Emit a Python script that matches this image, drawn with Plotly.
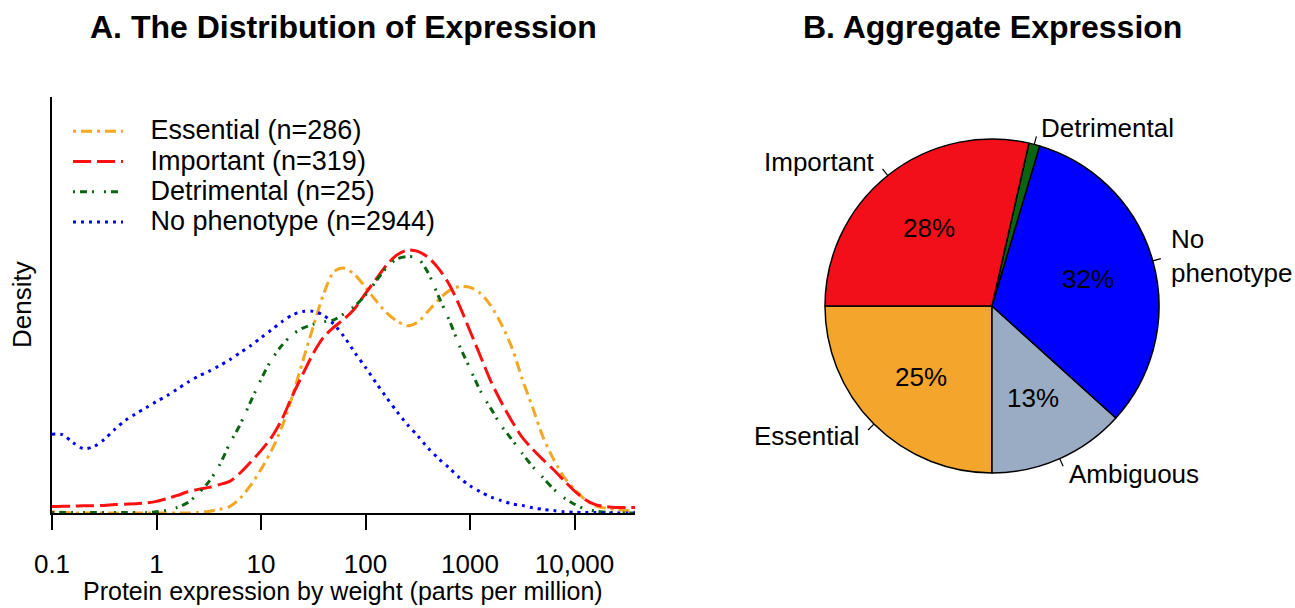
import math
import plotly.graph_objects as go

# ---------------- data ----------------
# log10 of protein expression (ppm) at which densities were read
log10_ppm = [-1.0, -0.9, -0.8, -0.7, -0.6, -0.5, -0.4, -0.3, -0.2, -0.1,
             0.0, 0.1, 0.2, 0.3, 0.4, 0.5, 0.6, 0.7, 0.8, 0.9,
             1.0, 1.1, 1.2, 1.3, 1.4, 1.5, 1.6, 1.7, 1.8, 1.9,
             2.0, 2.1, 2.2, 2.3, 2.4, 2.5, 2.6, 2.7, 2.8, 2.9,
             3.0, 3.1, 3.2, 3.3, 3.4, 3.5, 3.6, 3.7, 3.8, 3.9,
             4.0, 4.1, 4.2, 4.3, 4.4, 4.5, 4.6]

essential = [0.003, 0.002, 0.000, 0.000, 0.000, 0.000, 0.000, 0.000, 0.000, 0.000,
             0.000, 0.000, 0.000, 0.000, 0.001, 0.004, 0.009, 0.016, 0.037, 0.069,
             0.109, 0.156, 0.215, 0.292, 0.380, 0.466, 0.548, 0.604, 0.612, 0.595,
             0.564, 0.531, 0.501, 0.480, 0.468, 0.477, 0.505, 0.533, 0.556, 0.566,
             0.564, 0.549, 0.518, 0.472, 0.414, 0.335, 0.263, 0.189, 0.134, 0.090,
             0.059, 0.034, 0.018, 0.012, 0.009, 0.006, 0.003]

important = [0.016, 0.017, 0.017, 0.018, 0.018, 0.019, 0.021, 0.022, 0.023, 0.025,
             0.029, 0.036, 0.044, 0.053, 0.059, 0.064, 0.071, 0.079, 0.100, 0.127,
             0.156, 0.189, 0.234, 0.293, 0.347, 0.399, 0.440, 0.465, 0.486, 0.512,
             0.549, 0.584, 0.619, 0.645, 0.657, 0.654, 0.639, 0.611, 0.572, 0.518,
             0.455, 0.392, 0.329, 0.277, 0.230, 0.189, 0.159, 0.133, 0.108, 0.081,
             0.055, 0.034, 0.021, 0.016, 0.014, 0.014, 0.014]

detrimental = [0.001, 0.001, 0.001, 0.001, 0.001, 0.001, 0.001, 0.001, 0.001, 0.001,
               0.003, 0.007, 0.014, 0.026, 0.049, 0.078, 0.118, 0.173, 0.221, 0.278,
               0.334, 0.383, 0.419, 0.446, 0.462, 0.472, 0.478, 0.483, 0.499, 0.518,
               0.545, 0.579, 0.613, 0.635, 0.641, 0.637, 0.600, 0.541, 0.483, 0.418,
               0.361, 0.305, 0.261, 0.218, 0.184, 0.149, 0.116, 0.088, 0.060, 0.038,
               0.022, 0.010, 0.005, 0.002, 0.001, 0.000, 0.000]

no_phenotype = [0.197, 0.196, 0.176, 0.161, 0.166, 0.184, 0.209, 0.231, 0.248, 0.263,
                0.279, 0.293, 0.310, 0.327, 0.342, 0.354, 0.368, 0.383, 0.401, 0.418,
                0.438, 0.458, 0.478, 0.495, 0.504, 0.504, 0.494, 0.471, 0.439, 0.400,
                0.364, 0.326, 0.289, 0.254, 0.221, 0.193, 0.162, 0.136, 0.113, 0.088,
                0.068, 0.053, 0.040, 0.031, 0.023, 0.019, 0.013, 0.009, 0.006, 0.003,
                0.002, 0.001, 0.001, 0.000, 0.000, 0.000, 0.000]

series_names = ["Essential (n=286)", "Important (n=319)",
                "Detrimental (n=25)", "No phenotype (n=2944)"]

tick_values = [0.1, 1, 10, 100, 1000, 10000]
tick_labels = ["0.1", "1", "10", "100", "1000", "10,000"]

# pie (aggregate expression share, percent), drawn counter-clockwise from 9 o'clock
pie_labels = ["Essential", "Ambiguous", "No phenotype", "Detrimental", "Important"]
pie_values = [25.0, 13.3, 32.1, 1.05, 28.55]
pie_pct_text = ["25%", "13%", "32%", "", "28%"]
pie_label_text = ["Essential", "Ambiguous", "No<br>phenotype", "Detrimental", "Important"]

# ---------------- styles ----------------
W, H = 1295, 608
FONT = "Liberation Sans, Arial, sans-serif"
FS = 26

line_colors = ["#F5A623", "#FF1010", "#0B640F", "#0000FF"]
line_dashes = ["3px,5px,11px,5px", "18px,6px", "2px,5px,7px,5px,2px,10px", "3px,5px"]
pie_colors = ["#F4A52B", "#9AABC4", "#0000FF", "#0A6410", "#F20F1A"]

# plot area of panel A (pixels)
PL, PR, PT, PB = 52, 635, 97, 513
# pie centre and radius (pixels)
CX, CY, R = 992, 306, 167

fig = go.Figure()

ppm = [10 ** v for v in log10_ppm]
NBSP = "\u00a0"
for name, ys, col, dash in zip(series_names,
                               [essential, important, detrimental, no_phenotype],
                               line_colors, line_dashes):
    fig.add_trace(go.Scatter(
        x=ppm, y=ys, mode="lines",
        name='<span style="font-size:27px">' + NBSP * 3 + name + "</span>",
        line=dict(color=col, width=3, dash=dash, shape="spline", smoothing=0.8),
        hoverinfo="skip", xaxis="x", yaxis="y"))

fig.add_trace(go.Pie(
    labels=pie_labels, values=pie_values, sort=False,
    direction="counterclockwise", rotation=180,
    marker=dict(colors=pie_colors, line=dict(color="black", width=1.5)),
    textinfo="none", showlegend=False, hoverinfo="label+percent",
    domain=dict(x=[(CX - R) / W, (CX + R) / W],
                y=[1 - (CY + R) / H, 1 - (CY - R) / H])))

annotations = []
shapes = []


def px_to_paper(px, py):
    return px / W, 1 - py / H


# pie labels and percent texts computed from the values
total = sum(pie_values)
cum = 0.0
for val, lab, pct in zip(pie_values, pie_label_text, pie_pct_text):
    mid = math.radians(180 + 360 * (cum + val / 2) / total)
    cum += val
    c, s = math.cos(mid), math.sin(mid)
    x1, y1 = px_to_paper(CX + R * c, CY - R * s)
    x2, y2 = px_to_paper(CX + 1.05 * R * c, CY - 1.05 * R * s)
    shapes.append(dict(type="line", xref="paper", yref="paper",
                       x0=x1, y0=y1, x1=x2, y1=y2,
                       line=dict(color="black", width=1.2)))
    lx, ly = px_to_paper(CX + 1.1 * R * c, CY - 1.1 * R * s)
    annotations.append(dict(
        x=lx, y=ly, xref="paper", yref="paper", text=lab, showarrow=False,
        xanchor="left" if c > 0 else "right", yanchor="middle",
        align="left" if c > 0 else "right",
        font=dict(family=FONT, size=FS, color="black")))
    if pct:
        tx, ty = px_to_paper(CX + 0.6 * R * c, CY - 0.6 * R * s)
        annotations.append(dict(
            x=tx, y=ty, xref="paper", yref="paper", text=pct, showarrow=False,
            xanchor="center", yanchor="middle",
            font=dict(family=FONT, size=FS, color="black")))

# titles
annotations.append(dict(x=343 / W, y=1 - 27 / H, xref="paper", yref="paper",
                        text="<b>A. The Distribution of Expression</b>", showarrow=False,
                        xanchor="center", yanchor="middle",
                        font=dict(family=FONT, size=32, color="black")))
annotations.append(dict(x=992 / W, y=1 - 27 / H, xref="paper", yref="paper",
                        text="<b>B. Aggregate Expression</b>", showarrow=False,
                        xanchor="center", yanchor="middle",
                        font=dict(family=FONT, size=32, color="black")))
# axis titles
annotations.append(dict(x=343 / W, y=1 - 591 / H, xref="paper", yref="paper",
                        text="Protein expression by weight (parts per million)",
                        showarrow=False, xanchor="center", yanchor="middle",
                        font=dict(family=FONT, size=25, color="black")))
annotations.append(dict(x=22 / W, y=1 - 305 / H, xref="paper", yref="paper",
                        text="Density", textangle=-90, showarrow=False,
                        xanchor="center", yanchor="middle",
                        font=dict(family=FONT, size=FS, color="black")))

fig.update_layout(
    template="none",
    width=W, height=H, autosize=False,
    margin=dict(l=0, r=0, t=0, b=0, pad=0),
    paper_bgcolor="white", plot_bgcolor="white",
    font=dict(family=FONT, size=FS, color="black"),
    xaxis=dict(type="log", domain=[PL / W, PR / W],
               range=[-1, -1 + (PR - PL) / 104.5],
               showline=True, linecolor="black", linewidth=2,
               ticks="outside", ticklen=15, tickwidth=2, tickcolor="black",
               tickvals=tick_values, ticktext=tick_labels,
               tickfont=dict(family=FONT, size=FS, color="black"),
               ticklabelstandoff=12, automargin=False,
               showgrid=False, zeroline=False, anchor="y"),
    yaxis=dict(domain=[1 - PB / H, 1 - PT / H], range=[0, (PB - PT) * 0.0025],
               showline=True, linecolor="black", linewidth=2,
               showticklabels=False, ticks="", showgrid=False, zeroline=False,
               automargin=False, anchor="x"),
    legend=dict(x=68 / W, y=1 - 111 / H, xanchor="left", yanchor="top",
                bgcolor="rgba(0,0,0,0)", borderwidth=0,
                font=dict(family=FONT, size=21), itemwidth=50),
    annotations=annotations, shapes=shapes,
)

fig.write_html("out.html",
               config={"displayModeBar": False},
               post_script="document.body.style.margin='0px';"
                           "document.body.style.overflow='hidden';")
